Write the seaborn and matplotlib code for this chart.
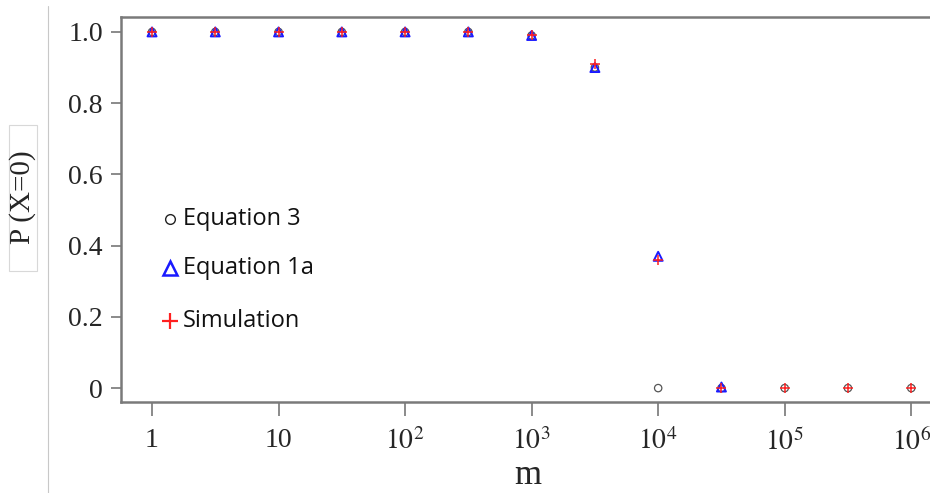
import numpy as np
import pandas as pd
import matplotlib
matplotlib.use("Agg")
import matplotlib.pyplot as plt
import seaborn as sns
from matplotlib.patches import Rectangle
from matplotlib.lines import Line2D

# Data
m_values = [1, 3.162, 10, 31.62, 100, 316.2, 1000, 3162, 10000, 31620, 100000, 316200, 1000000]
eq3 = [1.0, 1.0, 1.0, 1.0, 1.0, 1.0, 0.99, 0.90, 0.0, 0.0, 0.0, 0.0, 0.0]
eq1a = [1.0, 1.0, 1.0, 1.0, 1.0, 1.0, 0.99, 0.90, 0.37, 0.003, np.nan, np.nan, np.nan]
sim = [1.0, 1.0, 1.0, 1.0, 1.0, 1.0, 0.99, 0.91, 0.36, 0.0, 0.0, 0.0, 0.0]
xtick_vals = [1, 10, 100, 1000, 10000, 100000, 1000000]
xtick_labels = ["1", "10", "$10^2$", "$10^3$", "$10^4$", "$10^5$", "$10^6$"]
ytick_vals = [0, 0.2, 0.4, 0.6, 0.8, 1.0]
ytick_labels = ["0", "0.2", "0.4", "0.6", "0.8", "1.0"]
legend_labels = ["Equation 3", "Equation 1a", "Simulation"]

sns.set_style("white")
plt.rcParams["mathtext.fontset"] = "stix"

fig = plt.figure(figsize=(9.3, 4.93), dpi=100)
ax = fig.add_axes([0.130, 0.1846, 0.875, 0.781])

df = pd.DataFrame({"m": m_values, "eq3": eq3, "eq1a": eq1a, "sim": sim})

sns.scatterplot(data=df, x="m", y="eq3", ax=ax, marker="o", s=28,
                facecolors="none", edgecolor="#555555", linewidth=0.9, zorder=3)
sns.scatterplot(data=df.dropna(subset=["eq1a"]), x="m", y="eq1a", ax=ax, marker="^", s=42,
                facecolors="none", edgecolor="#1a1aff", linewidth=1.4, zorder=4)
sns.scatterplot(data=df, x="m", y="sim", ax=ax, marker="+", s=60,
                color="#ff2020", linewidth=1.1, zorder=5)

ax.set_xscale("log")
ax.set_xlim(10 ** -0.246, 10 ** 6.185)
ax.set_ylim(-0.039, 1.042)

serif = "Liberation Serif"
ax.set_xticks(xtick_vals)
ax.set_xticklabels(xtick_labels, fontsize=20, family=serif)
ax.xaxis.set_minor_locator(matplotlib.ticker.NullLocator())
ax.set_yticks(ytick_vals)
ax.set_yticklabels(ytick_labels, fontsize=20, family=serif)

ax.tick_params(axis="x", direction="out", length=10, width=1.2, color="#777777", pad=9, bottom=True)
ax.tick_params(axis="y", direction="out", length=7, width=1.2, color="#777777", pad=6, left=True)

for side in ["left", "bottom", "top"]:
    ax.spines[side].set_visible(True)
    ax.spines[side].set_color("#7a7a7a")
    ax.spines[side].set_linewidth(1.8)
ax.spines["right"].set_visible(False)

ax.set_xlabel("")
ax.set_ylabel("")
fig.text(528 / 930, 1 - 484 / 493, "m", fontsize=25, family=serif, ha="center", va="baseline")

# y label with box
fig.text(0.0247, 1 - 197 / 493, "P (X=0)", rotation=90, fontsize=21, family=serif,
         ha="center", va="center")
fig.add_artist(Rectangle((9 / 930, 1 - 271 / 493), 28 / 930, 146 / 493,
                         transform=fig.transFigure, fill=False,
                         edgecolor="#d8d8d8", linewidth=0.8))
fig.add_artist(Line2D([48 / 930, 48 / 930], [0, 1 - 6 / 493], transform=fig.transFigure,
                      color="#c8c8c8", linewidth=0.8))

# legend as text
sans = "Open Sans"
leg_y = [219, 268, 321]
leg_markers = [dict(marker="o", mfc="none", mec="#222222", ms=7, mew=1.0),
               dict(marker="^", mfc="none", mec="#1a1aff", ms=10, mew=1.8),
               dict(marker="+", color="#ff2020", ms=11, mew=1.6)]
for yy, lab, mk in zip(leg_y, legend_labels, leg_markers):
    fy = 1 - yy / 493
    fig.add_artist(Line2D([170 / 930], [fy], transform=fig.transFigure, linestyle="none", **mk))
    fig.text(183 / 930, fy, lab, fontsize=17, family=sans, ha="left", va="center", color="#111111")

fig.savefig("out.png", dpi=100)
